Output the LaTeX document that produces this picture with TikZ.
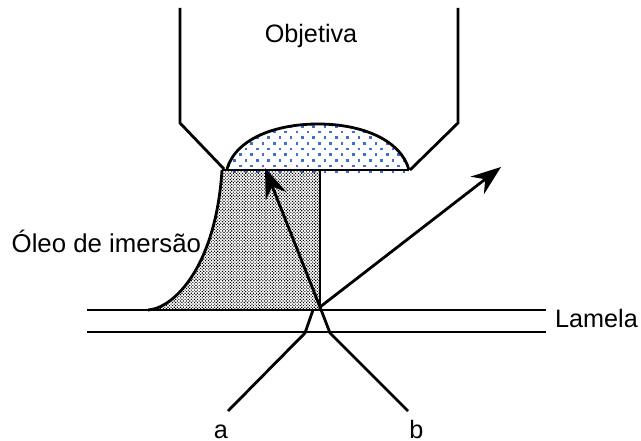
\documentclass[tikz,border=0pt]{standalone}
\usepackage{fontspec}
\setmainfont{Liberation Sans}
\usetikzlibrary{arrows.meta,patterns.meta}
\definecolor{dotblue}{HTML}{3F6FD0}
\tikzset{
  outline/.style={line width=2.8pt,line join=miter},
  lbl/.style={inner sep=0pt,font=\fontsize{25.2}{30}\selectfont},
  ray/.style={line width=2.8pt,-{Stealth[length=30pt,width=22pt,inset=10pt]}},
  oil/.style={pattern={Dots[distance=2.2pt,radius=0.78pt,angle=45]},pattern color=black}
}
\begin{document}
\begin{tikzpicture}[x=1pt,y=-1pt]
\useasboundingbox (0,0) rectangle (641,441);
% objective
\coordinate (ol1) at (180,8); \coordinate (ol2) at (180,123); \coordinate (ol3) at (224,169);
\coordinate (or1) at (458,8); \coordinate (or2) at (458,123); \coordinate (or3) at (410,170);
\draw[outline] (ol1) -- (ol2) -- (ol3);
\draw[outline] (or1) -- (or2) -- (or3);
% lens
\coordinate (ls) at (227,169); \coordinate (le) at (409,170);
\begin{scope}
\clip (ls) .. controls (236,138) and (277,124) .. (318,124) .. controls (362,124) and (401,140) .. (le) -- (409,173) -- (227,173) -- cycle;
\foreach \r in {-1,0,...,8} \foreach \c in {0,...,17} {
  \pgfmathsetmacro{\px}{229+\c*11.3+mod(\r+2,2)*5.65}
  \pgfmathsetmacro{\py}{166-\r*5.67}
  \fill[dotblue] (\px-1.3,\py-1.3) rectangle (\px+1.3,\py+1.3);
}
\end{scope}
\draw[outline] (ls) .. controls (236,138) and (277,124) .. (318,124) .. controls (362,124) and (401,140) .. (le);
% oil
\coordinate (oa) at (222,170); \coordinate (ob) at (320,170); \coordinate (oc) at (320,310); \coordinate (od) at (148,310);
\fill[oil] (oa) -- (ob) -- (oc) -- (od) .. controls (175,308) and (216,265) .. (oa) -- cycle;
\draw[outline] (od) .. controls (175,308) and (216,265) .. (oa);
\draw[outline] (oa) -- (le);
\draw[outline] (ob) -- (oc);
% coverslip
\coordinate (la) at (87,310); \coordinate (lb) at (546,310);
\coordinate (lc) at (87,332); \coordinate (ld) at (546,332);
\draw[outline] (la) -- (lb);
\draw[outline] (lc) -- (ld);
% rays
\coordinate (a0) at (228,411); \coordinate (a1) at (305,333); \coordinate (a2) at (313,310);
\coordinate (b0) at (408,411); \coordinate (b1) at (330,333); \coordinate (b2) at (320,307);
\coordinate (at) at (265,168); \coordinate (bt) at (501,167);
\draw[outline] (a0) -- (a1) -- (a2);
\draw[outline] (b0) -- (b1) -- (b2);
\draw[ray] (b2) -- (at);
\draw[ray] (b2) -- (bt);
% labels
\node[lbl,anchor=base] (objetiva) at (311,43) {Objetiva};
\node[lbl,anchor=base west,font=\fontsize{25.8}{30}\selectfont] (oleo) at (11.5,253) {Óleo de imersão};
\node[lbl,anchor=base west] (lamela) at (555,328) {Lamela};
\node[lbl,anchor=base] (a) at (221,438) {a};
\node[lbl,anchor=base] (b) at (416.5,438) {b};
\end{tikzpicture}
\end{document}
